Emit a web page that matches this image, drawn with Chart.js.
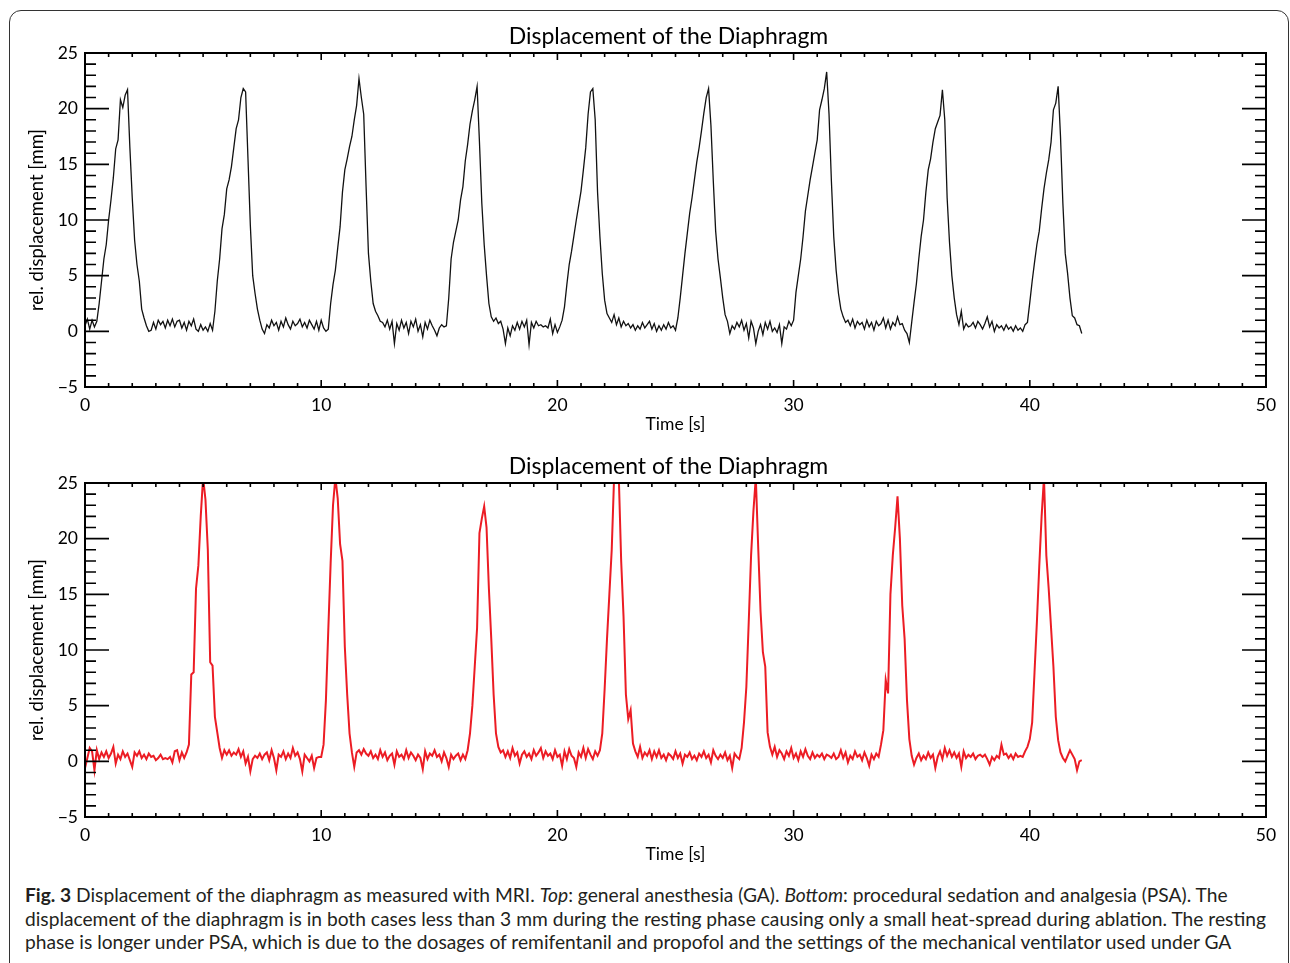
<!DOCTYPE html>
<html>
<head>
<meta charset="utf-8">
<title>Displacement of the Diaphragm</title>
<script src="https://cdn.jsdelivr.net/npm/chart.js@4.4.0/dist/chart.umd.min.js"></script>
<style>
    html, body {
        margin: 0;
        padding: 0;
        width: 1290px;
        height: 963px;
        overflow: hidden;
        background: #fff;
        font-family: Lato, "Open Sans", sans-serif;
    }
    #frame {
        position: absolute;
        left: 9px;
        top: 10px;
        width: 1280px;
        height: 1000px;
        border: 1.5px solid #333;
        border-radius: 12px;
        box-sizing: border-box;
    }
    .plot {
        position: absolute;
        left: 0;
        width: 1290px;
        height: 440px;
    }
    #top-plot { top: 0; }
    #bottom-plot { top: 430px; }
    #caption {
        position: absolute;
        left: 25px;
        top: 883px;
        font-size: 19.2px;
        line-height: 23.5px;
        color: #231f20;
        white-space: nowrap;
    }
</style>
</head>
<body>
<div id="frame"></div>
<div class="plot" id="top-plot"><canvas id="chart-ga" width="1290" height="440"></canvas></div>
<div class="plot" id="bottom-plot"><canvas id="chart-psa" width="1290" height="440"></canvas></div>
<div id="caption">
    <div><b>Fig. 3</b> Displacement of the diaphragm as measured with MRI. <i>Top</i>: general anesthesia (GA). <i>Bottom</i>: procedural sedation and analgesia (PSA). The</div>
    <div>displacement of the diaphragm is in both cases less than 3 mm during the resting phase causing only a small heat-spread during ablation. The resting</div>
    <div>phase is longer under PSA, which is due to the dosages of remifentanil and propofol and the settings of the mechanical ventilator used under GA</div>
</div>
<script>
// samples every 0.1 s, one row per second
const timeStep = 0.1;

// general anesthesia (top panel)
const displacementGA = [
    0.5, 1.1, 0.2, 1.0, 0.4, 0.9, 2.5, 4.5, 6.5, 7.8,
    10.0, 11.8, 13.8, 16.4, 17.2, 20.8, 20.1, 21.2, 21.7, 16.5,
    12.0, 8.2, 6.0, 4.5, 2.0, 1.2, 0.5, 0.0, 0.1, 0.8,
    0.2, 1.0, 0.6, 0.9, 0.3, 1.0, 0.5, 1.1, 0.4, 0.9,
    1.0, 0.3, 0.8, 0.1, 0.9, 0.5, 1.1, 0.2, 0.0, 0.6,
    0.1, 0.4, 0.0, 0.7, 0.1, 1.8, 4.5, 6.5, 9.2, 10.5,
    12.8, 13.6, 14.8, 16.5, 18.2, 19.0, 21.0, 21.8, 21.5, 15.5,
    9.5, 5.0, 3.4, 2.0, 1.0, 0.2, -0.2, 0.6, 0.3, 1.0,
    0.5, 0.8, 0.1, 0.9, 0.4, 1.2, 0.6, 0.2, 0.9, 0.5,
    0.7, 1.1, 0.4, 0.8, 0.3, 1.0, 0.6, 0.2, 0.9, 0.1,
    1.0, 0.3, 0.0, 0.2, 2.5, 4.2, 5.5, 7.5, 9.4, 12.5,
    14.5, 15.5, 16.6, 17.5, 19.0, 20.3, 22.7, 21.0, 19.5, 13.0,
    7.0, 4.5, 2.5, 1.8, 1.4, 0.9, 0.8, 0.4, 1.0, 0.2,
    0.9, -1.1, 0.7, 0.1, 1.0, 0.3, 0.8, -0.2, 0.9, 0.4,
    1.1, 0.0, 0.6, -0.5, 0.8, 0.2, 1.0, 0.5, 0.1, -0.4,
    0.3, 0.6, 0.4, 0.5, 3.0, 6.5, 8.0, 9.0, 10.0, 11.8,
    13.0, 15.3, 16.8, 18.6, 19.8, 20.8, 22.0, 17.0, 11.5, 7.8,
    5.0, 2.5, 1.3, 0.9, 1.2, 0.7, 0.9, 0.2, -1.1, 0.3,
    -0.4, 0.5, 0.1, 0.8, 0.2, 0.9, 0.4, 1.0, -1.2, 0.8,
    0.3, 0.9, 0.5, 0.6, 0.4, 0.5, 0.3, 1.1, -0.2, 0.6,
    -0.1, 0.4, 1.0, 2.2, 4.2, 6.0, 7.2, 8.6, 10.0, 11.3,
    12.6, 14.5, 16.5, 19.5, 21.5, 21.8, 19.0, 12.5, 8.5, 5.2,
    2.8, 1.6, 1.2, 0.8, 1.5, 0.6, 1.2, 0.4, 0.9, 0.5,
    0.7, 0.3, 0.6, 0.1, 0.5, 0.2, 0.8, 0.3, 0.6, 0.9,
    0.2, 0.7, 0.0, 0.5, 0.1, 0.6, 0.2, 0.8, 0.3, 0.5,
    0.1, 1.2, 3.0, 5.0, 7.0, 8.8, 10.6, 12.0, 13.6, 15.2,
    16.5, 18.0, 19.6, 21.0, 21.8, 18.5, 13.5, 9.0, 6.5, 4.8,
    3.0, 1.5, 0.9, -0.2, 0.5, 0.2, 0.8, 0.4, 1.0, 0.1,
    0.7, -0.6, 0.9, 0.3, -1.1, 0.0, 0.6, -0.3, 0.8, 0.2,
    0.9, 0.0, 0.3, -0.1, 0.6, -1.1, 0.4, 0.2, 0.9, 0.5,
    1.0, 3.5, 5.0, 6.5, 8.5, 10.8, 12.2, 13.6, 14.8, 16.0,
    17.2, 19.9, 20.8, 21.8, 23.3, 19.5, 13.5, 8.5, 5.5, 3.4,
    2.0, 1.3, 0.8, 1.0, 0.5, 1.1, 0.3, 0.9, 0.6, 0.8,
    0.2, 1.0, 0.4, 0.8, 0.1, 0.9, 0.5, 0.7, 1.2, 0.3,
    1.0, 0.2, 0.8, 0.5, 1.3, 0.6, 0.7, 0.1, -0.2, -1.0,
    0.8, 2.6, 4.3, 6.5, 8.5, 10.0, 12.5, 14.5, 15.5, 17.0,
    18.2, 18.8, 19.4, 21.7, 19.0, 12.0, 8.0, 5.0, 3.0, 1.5,
    0.6, 1.8, 0.2, 0.7, 0.4, 0.5, 0.8, 0.3, 0.9, 0.6,
    0.2, 0.7, 1.3, 0.4, 0.9, 0.0, 0.6, 0.3, 0.5, 0.1,
    0.6, 0.2, 0.4, 0.0, 0.5, 0.1, 0.3, 0.0, 0.6, 0.8,
    2.6, 4.5, 6.2, 7.8, 9.0, 11.0, 12.8, 14.2, 15.4, 17.0,
    19.9, 20.5, 22.0, 17.5, 11.5, 7.0, 5.2, 3.0, 1.4, 1.2,
    0.6, 0.5, -0.2
];

// procedural sedation and analgesia (bottom panel)
const displacementPSA = [
    -0.6, 0.3, 1.2, 0.9, -0.8, 1.0, 0.2, 0.8, 0.4, 0.9,
    0.3, 0.7, 1.3, -0.2, 0.6, 0.2, 0.9, 0.4, 0.7, 0.1,
    -0.5, 0.8, 0.5, 0.9, 0.3, 0.6, 0.2, 0.7, 0.4, 0.5,
    0.1, 0.3, 0.6, 0.2, 0.3, 0.2, 0.4, -0.1, 0.9, 1.0,
    0.1, 0.8, 0.3, 0.8, 1.5, 7.8, 8.0, 15.5, 17.6, 22.0,
    25.5, 23.5, 19.0, 8.9, 8.6, 4.0, 2.6, 1.2, 0.3, 1.0,
    0.6, 1.0, 0.5, 0.8, 0.6, 1.1, 0.4, 0.9, -0.2, 0.4,
    -0.9, 0.2, 0.5, 0.3, 0.7, 0.2, 0.6, 0.8, 0.1, 1.0,
    0.3, -0.8, 0.6, 0.4, 0.9, 0.2, 0.7, 0.3, 1.2, 0.5,
    0.8, 0.2, -0.9, 0.6, 0.3, 0.0, 0.5, -0.6, 0.3, 0.4,
    0.4, 1.5, 5.5, 11.8, 17.8, 23.0, 25.5, 23.6, 19.5, 18.0,
    10.3, 6.0, 2.5, 0.8, -0.5, 0.8, 1.0, 0.6, 1.1, 0.7,
    0.5, 0.9, 0.3, 0.6, 0.2, 1.0, 0.4, 0.8, 0.1, 0.5,
    0.7, -0.3, 0.9, 0.4, 0.6, 0.2, 1.0, 0.3, 0.8, 0.5,
    0.1, 0.6, 0.3, -0.7, 0.9, 0.2, 0.7, 0.5, 1.0, 0.4,
    0.6, 0.0, 0.8, 0.3, -0.5, 0.6, 0.2, 0.5, 0.7, 0.1,
    0.6, 0.2, 1.0, 2.5, 5.0, 8.5, 12.0, 20.5, 21.8, 22.9,
    21.0, 15.5, 11.0, 6.0, 2.5, 1.3, 0.8, 1.0, 0.4, 0.9,
    0.3, 1.2, 0.5, 0.8, -0.2, 0.6, 0.9, 0.4, 0.7, 0.2,
    1.0, 0.5, 0.8, 1.2, 0.3, 0.9, 0.5, 0.7, 0.2, 1.0,
    0.4, 0.6, -0.4, 0.9, 0.2, 1.1, 0.5, 0.3, -0.5, 0.8,
    0.4, 1.2, 0.3, 1.1, 0.6, 0.2, 0.9, 0.5, 1.0, 2.5,
    6.5, 11.0, 15.0, 19.0, 25.5, 26.5, 25.5, 18.0, 13.0, 6.0,
    3.8, 4.6, 1.6, 0.9, 0.4, 1.3, 0.3, 0.8, 0.5, 1.0,
    0.2, 0.9, 0.4, 1.0, 0.3, 0.6, 0.1, 0.7, 0.5, 0.2,
    0.9, 0.3, 0.7, -0.2, 0.6, 0.4, 0.8, 0.2, 0.5, 0.1,
    0.7, 0.4, 0.9, 0.3, 0.6, -0.1, 1.0, 0.5, 0.2, 0.6,
    0.3, 0.8, 0.1, 0.5, -0.6, 0.7, 0.4, 0.2, 1.2, 3.5,
    6.7, 12.5, 18.5, 22.5, 25.5, 19.3, 13.5, 9.8, 8.5, 2.6,
    1.3, 0.6, 1.3, 0.4, 1.0, 0.7, 0.2, 0.9, 0.5, 1.2,
    0.3, 0.7, 0.1, 0.9, 0.4, 1.1, 0.5, 0.2, 0.8, 0.3,
    0.6, 0.4, 0.7, 0.2, 0.6, 0.5, 0.3, 0.7, 0.2, 0.4,
    1.0, 0.3, 0.8, -0.1, 0.5, 0.2, 0.9, 0.4, 0.6, 0.1,
    0.8, 0.3, -0.4, 0.6, 0.2, 0.7, 0.4, 1.5, 2.8, 7.3,
    6.1, 15.0, 18.5, 21.0, 23.8, 20.0, 14.0, 11.0, 5.5, 2.0,
    0.5, -0.3, 0.3, 0.7, 0.1, 0.5, 0.2, 0.8, 0.3, 0.6,
    -0.6, 0.4, 0.9, 0.2, 1.2, 0.5, 1.0, 0.4, 0.8, 0.3,
    0.7, -0.5, 0.9, 0.3, 0.6, 0.4, 0.7, 0.2, 0.5, 0.6,
    0.4, 0.6, 0.2, -0.3, 0.4, 0.1, 0.5, 0.3, 1.5, 0.6,
    0.7, 0.3, 0.6, 0.2, 0.7, 0.4, 0.5, 0.4, 0.9, 1.3,
    2.0, 3.5, 8.0, 12.5, 17.5, 22.0, 25.5, 18.5, 15.5, 12.0,
    8.5, 4.0, 1.9, 0.8, 0.3, 0.0, 0.5, 1.0, 0.6, 0.2,
    -0.8, 0.0, 0.1
];

const xTicks = [0, 10, 20, 30, 40, 50];
const yTicks = [-5, 0, 5, 10, 15, 20, 25];

const chartTitle = 'Displacement of the Diaphragm';
const xTitle = 'Time [s]';
const yTitle = 'rel. displacement [mm]';

const fontFamily = 'Lato, "Open Sans", sans-serif';

// IDL style frame with inward major/minor ticks on all four sides, plus the panel title
const idlAxes = {
    id: 'idlAxes',
    afterDatasetsDraw(chart) {
        const { ctx, chartArea, scales } = chart;
        const { left, right, top, bottom } = chartArea;
        const x = scales.x;
        const y = scales.y;
        ctx.save();
        ctx.strokeStyle = '#000';
        ctx.lineWidth = 1.6;
        ctx.beginPath();
        for (let t = x.min; t <= x.max; t += 1) {
            const px = x.getPixelForValue(t);
            const len = t % 10 === 0 ? 7 : 4;
            ctx.moveTo(px, bottom);
            ctx.lineTo(px, bottom - len);
            ctx.moveTo(px, top);
            ctx.lineTo(px, top + len);
        }
        for (let v = y.min; v <= y.max; v += 1) {
            const py = y.getPixelForValue(v);
            const len = v % 5 === 0 ? 24 : 11;
            ctx.moveTo(left, py);
            ctx.lineTo(left + len, py);
            ctx.moveTo(right, py);
            ctx.lineTo(right - len, py);
        }
        ctx.stroke();
        ctx.lineWidth = 2;
        ctx.strokeRect(left, top, right - left, bottom - top);

        ctx.fillStyle = '#000';
        ctx.font = '23px ' + fontFamily;
        ctx.textAlign = 'center';
        ctx.textBaseline = 'middle';
        ctx.fillText(chartTitle, (left + right) / 2 - 7, top - 16);
        ctx.restore();
    }
};

function toPoints(values) {
    return values.map((v, i) => ({ x: Math.round(i * timeStep * 10) / 10, y: v }));
}

function makeChart(canvasId, values, color, width) {
    const ctx = document.getElementById(canvasId).getContext('2d');
    return new Chart(ctx, {
        type: 'line',
        data: {
            datasets: [{
                data: toPoints(values),
                borderColor: color,
                borderWidth: width,
                pointRadius: 0,
                tension: 0,
                fill: false,
                clip: 0
            }]
        },
        options: {
            responsive: false,
            animation: false,
            events: [],
            layout: { padding: { left: 10, right: 24, top: 53, bottom: 0 } },
            plugins: {
                legend: { display: false },
                tooltip: { enabled: false },
                title: { display: false }
            },
            scales: {
                x: {
                    type: 'linear',
                    position: 'bottom',
                    min: 0,
                    max: 50,
                    afterBuildTicks: s => { s.ticks = xTicks.map(v => ({ value: v })); },
                    afterFit: s => { s.height = 53; },
                    grid: { display: false, drawTicks: false },
                    border: { display: false },
                    ticks: {
                        color: '#000',
                        padding: 8,
                        maxRotation: 0,
                        autoSkip: false,
                        font: { family: fontFamily, size: 17.5 }
                    },
                    title: {
                        display: true,
                        text: xTitle,
                        color: '#000',
                        font: { family: fontFamily, size: 17.5 },
                        padding: { top: 0, bottom: 5 }
                    }
                },
                y: {
                    type: 'linear',
                    min: -5,
                    max: 25,
                    afterBuildTicks: s => { s.ticks = yTicks.map(v => ({ value: v })); },
                    afterFit: s => { s.width = 75; },
                    grid: { display: false, drawTicks: false },
                    border: { display: false },
                    ticks: {
                        color: '#000',
                        padding: 7,
                        autoSkip: false,
                        font: { family: fontFamily, size: 17.5 },
                        callback: v => v < 0 ? '\u2212' + Math.abs(v) : String(v)
                    },
                    title: {
                        display: true,
                        text: yTitle,
                        color: '#000',
                        font: { family: fontFamily, size: 18.5 },
                        padding: { top: 16, bottom: 0 }
                    }
                }
            }
        },
        plugins: [idlAxes]
    });
}

makeChart('chart-ga', displacementGA, '#111', 1.3);
makeChart('chart-psa', displacementPSA, '#ec1c24', 2);
</script>
</body>
</html>
